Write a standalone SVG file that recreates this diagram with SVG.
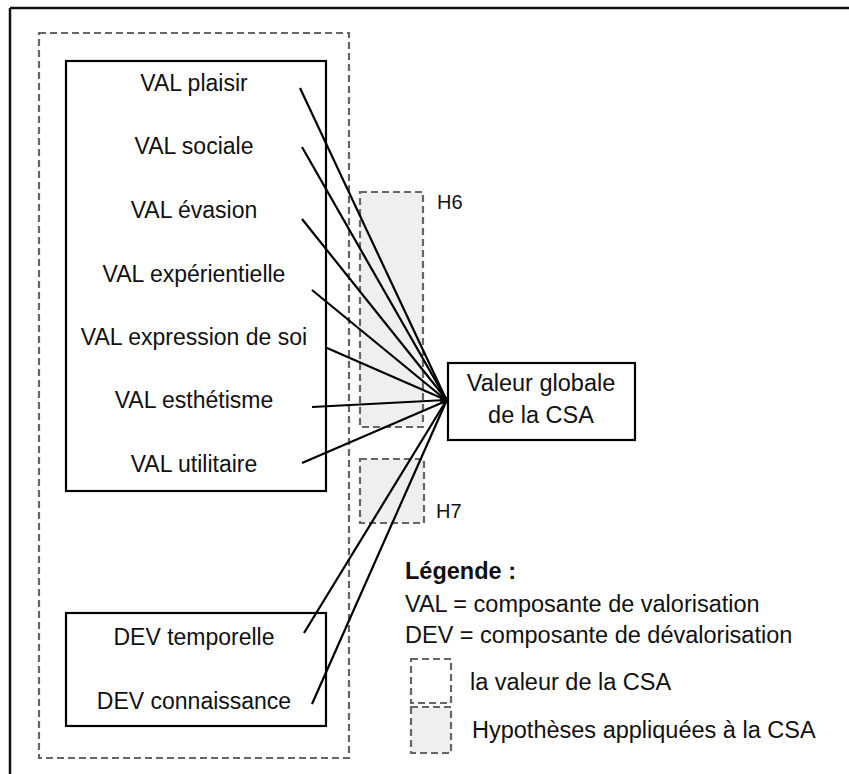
<svg xmlns="http://www.w3.org/2000/svg" width="849" height="774" viewBox="0 0 849 774">
<style>
text{font-family:"Liberation Sans",Arial,sans-serif;fill:#111;}
.lbl{font-size:23px;text-anchor:middle;}
.leg{font-size:23.5px;}
.hl{font-size:20px;}
.box{fill:#fff;stroke:#000;stroke-width:2.2;}
.dash{fill:none;stroke:#666;stroke-width:2.2;stroke-dasharray:7,4;}
.hyp{fill:#efefef;stroke:#666;stroke-width:2.2;stroke-dasharray:7,4;}
.con line{stroke:#000;stroke-width:2.2;}
</style>
<rect width="849" height="774" fill="#fff"/>
<g id="frame">
<line x1="10" y1="8" x2="849" y2="8" stroke="#111" stroke-width="2.5"/>
<line x1="10" y1="8" x2="10" y2="774" stroke="#111" stroke-width="2.5"/>
</g>
<g id="csa-value">
<rect class="dash" x="39" y="33" width="310" height="725"/>
</g>
<g id="H6">
<rect class="hyp" x="360" y="192" width="63" height="235"/>
<text class="hl" x="437" y="209">H6</text>
</g>
<g id="H7">
<rect class="hyp" x="360" y="459" width="64" height="64"/>
<text class="hl" x="436" y="518">H7</text>
</g>
<g id="val-group">
<rect class="box" x="66" y="61" width="260" height="430"/>
<text class="lbl" x="194" y="91">VAL plaisir</text>
<text class="lbl" x="194" y="154">VAL sociale</text>
<text class="lbl" x="194" y="218">VAL évasion</text>
<text class="lbl" x="194" y="282">VAL expérientielle</text>
<text class="lbl" x="194" y="345">VAL expression de soi</text>
<text class="lbl" x="194" y="408">VAL esthétisme</text>
<text class="lbl" x="194" y="472">VAL utilitaire</text>
</g>
<g id="dev-group">
<rect class="box" x="66" y="613" width="260" height="113"/>
<text class="lbl" x="194" y="645">DEV temporelle</text>
<text class="lbl" x="194" y="709">DEV connaissance</text>
</g>
<g id="valeur-globale">
<rect class="box" x="448" y="363" width="187" height="77"/>
<text class="lbl" x="541" y="391" style="font-size:23.5px">Valeur globale</text>
<text class="lbl" x="541" y="423" style="font-size:23.5px">de la CSA</text>
</g>
<g class="con" id="connectors">
<line x1="300" y1="88" x2="446" y2="399"/>
<line x1="302" y1="147" x2="446" y2="399"/>
<line x1="302" y1="219" x2="446" y2="399"/>
<line x1="312" y1="290" x2="446" y2="400"/>
<line x1="327" y1="348" x2="446" y2="400"/>
<line x1="312" y1="407" x2="446" y2="400"/>
<line x1="302" y1="463" x2="446" y2="401"/>
<line x1="304" y1="633" x2="446" y2="401"/>
<line x1="312" y1="704" x2="446" y2="402"/>
<circle cx="444" cy="400" r="4" fill="#000"/>
</g>
<g id="legend">
<text class="leg" x="405" y="579" font-weight="bold">Légende :</text>
<text class="leg" x="405" y="612">VAL = composante de valorisation</text>
<text class="leg" x="405" y="643">DEV = composante de dévalorisation</text>
<rect class="dash" x="411" y="659" width="40" height="44"/>
<text class="leg" x="470" y="690">la valeur de la CSA</text>
<rect class="hyp" x="411" y="707" width="40" height="46"/>
<text class="leg" x="472" y="738">Hypothèses appliquées à la CSA</text>
</g>
</svg>
